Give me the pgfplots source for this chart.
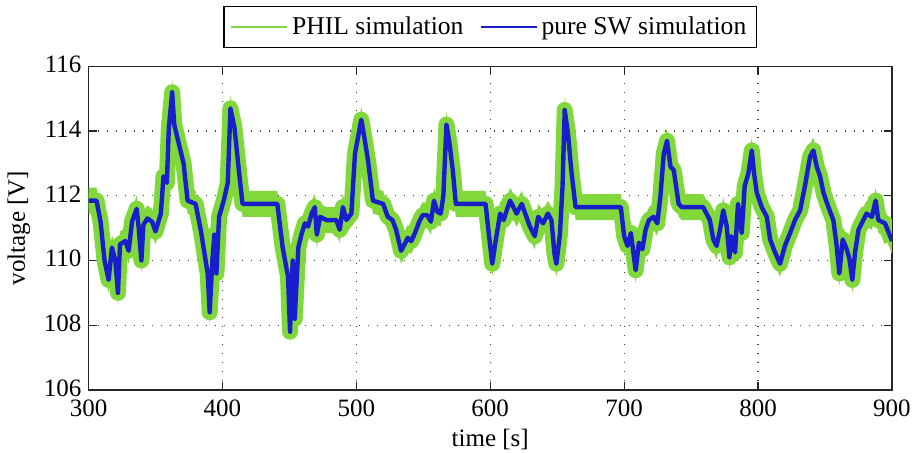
\documentclass[border=0pt]{standalone}
\usepackage{fontspec}
\setmainfont{Liberation Serif}
\usepackage{pgfplots}
\usepackage{pgfplotstable}
\usepgfplotslibrary{fillbetween}
\pgfplotsset{compat=1.18}
\definecolor{philgreen}{RGB}{128,216,58}
\definecolor{swblue}{RGB}{24,30,204}

% t: time, sw: pure SW simulation, phil: PHIL centre, hi/lo: PHIL band
\pgfplotstableread{
t sw phil hi lo
300 111.85 111.85 112.25 111.45
306 111.85 111.85 112.25 111.45
309 111.2 111.2 111.6 110.8
312 110.0 110.0 110.4 109.6
315 109.4 109.4 109.8 109.0
317.5 110.4 110.4 110.8 110.0
320 110.0 110.0 110.4 109.6
322 109.0 109.0 109.4 108.6
323.5 110.5 110.5 110.9 110.1
327.5 110.6 110.6 111.0 110.2
330 110.3 110.3 110.7 109.9
332.5 111.2 111.2 111.6 110.8
336 111.6 111.6 112.0 111.2
337.5 111.0 111.0 111.4 110.6
339.5 110.0 110.0 110.4 109.6
341 111.1 111.1 111.5 110.7
344 111.3 111.3 111.7 110.9
347.5 111.2 111.2 111.6 110.8
350 110.9 110.9 111.3 110.5
354 111.45 111.45 111.85 111.05
356 112.6 112.6 113.0 112.2
358.5 112.4 112.4 112.8 112.0
360 114.1 114.1 114.5 113.7
362.5 115.2 115.2 115.6 114.8
364 114.2 114.2 114.6 113.8
367.5 113.6 113.6 114.0 113.2
371 113.0 113.0 113.4 112.6
374 111.85 111.85 112.25 111.45
380 111.75 111.75 112.15 111.35
384 110.9 110.9 111.3 110.5
389 109.6 109.6 110.0 109.2
390.5 108.4 108.4 108.8 108.0
392.5 110.0 110.0 110.4 109.6
394 110.8 110.8 111.2 110.4
395.5 109.6 109.6 110.0 109.2
397.5 111.35 111.35 111.75 110.95
401 111.85 111.85 112.25 111.45
404 112.4 112.4 112.8 112.0
406 114.7 114.7 115.1 114.3
409 114.1 114.1 114.5 113.7
412.5 112.7 112.7 113.1 112.3
415 111.75 111.75 112.15 111.35
441 111.75 111.75 112.15 111.35
445 110.4 110.4 110.8 110.0
449 109.5 109.5 109.9 109.1
450.5 107.8 107.8 108.2 107.4
452.5 110.0 110.0 110.4 109.6
454 108.2 108.2 108.6 107.8
456.7 110.4 110.4 110.8 110.0
459 110.8 110.8 111.2 110.4
461.6 111.15 111.15 111.55 110.75
464 111.05 111.05 111.45 110.65
466.6 111.45 111.45 111.85 111.05
469 111.65 111.65 112.05 111.25
470.5 110.8 110.8 111.2 110.4
473 111.35 111.35 111.75 110.95
477.7 111.25 111.25 111.65 110.85
481.4 111.25 111.25 111.65 110.85
485 111.25 111.25 111.65 110.85
487.6 110.95 110.95 111.35 110.55
490 111.65 111.65 112.05 111.25
492.6 111.25 111.25 111.65 110.85
496.3 111.45 111.45 111.85 111.05
499 113.3 113.3 113.7 112.9
503.7 114.35 114.35 114.75 113.95
506 113.8 113.8 114.2 113.4
508.7 113.1 113.1 113.5 112.7
512.4 111.85 111.85 112.25 111.45
520 111.75 111.75 112.15 111.35
523.5 111.35 111.35 111.75 110.95
527 111.25 111.25 111.65 110.85
529.7 110.95 110.95 111.35 110.55
533.4 110.3 110.3 110.7 109.9
536 110.5 110.5 110.9 110.1
538.4 110.7 110.7 111.1 110.3
541 110.6 110.6 111.0 110.2
543.3 110.8 110.8 111.2 110.4
547 111.2 111.2 111.6 110.8
549.5 111.4 111.4 111.8 111.0
553 111.4 111.4 111.8 111.0
555.7 111.2 111.2 111.6 110.8
558 111.85 111.85 112.25 111.45
560.6 111.5 111.5 111.9 111.1
563 111.45 111.45 111.85 111.05
565 112.0 112.0 112.4 111.6
567.3 114.2 114.2 114.6 113.8
569.3 113.7 113.7 114.1 113.3
572 112.8 112.8 113.2 112.4
574.3 111.75 111.75 112.15 111.35
596.5 111.75 111.75 112.15 111.35
599 110.8 110.8 111.2 110.4
601.5 109.9 109.9 110.3 109.5
604 110.6 110.6 111.0 110.2
607.4 111.45 111.45 111.85 111.05
610 111.25 111.25 111.65 110.85
612.3 111.55 111.55 111.95 111.15
614.8 111.85 111.85 112.25 111.45
617.3 111.65 111.65 112.05 111.25
619.7 111.45 111.45 111.85 111.05
623.5 111.75 111.75 112.15 111.35
627 111.35 111.35 111.75 110.95
629.6 111.05 111.05 111.45 110.65
633.3 110.75 110.75 111.15 110.35
635.8 111.35 111.35 111.75 110.95
639.5 111.15 111.15 111.55 110.75
643 111.45 111.45 111.85 111.05
645.7 111.25 111.25 111.65 110.85
648 110.2 110.2 110.6 109.8
649.4 109.9 109.9 110.3 109.5
652 110.8 110.8 111.2 110.4
654 112.3 112.3 112.7 111.9
655.6 114.65 114.65 115.05 114.25
658 113.95 113.95 114.35 113.55
660.5 112.8 112.8 113.2 112.4
663.7 111.65 111.65 112.05 111.25
697.5 111.65 111.65 112.05 111.25
700 110.75 110.75 111.15 110.35
702.5 110.45 110.45 110.85 110.05
705 110.85 110.85 111.25 110.45
708.6 109.7 109.7 110.1 109.3
711 110.55 110.55 110.95 110.15
713.6 110.35 110.35 110.75 109.95
716 110.95 110.95 111.35 110.55
718.5 111.25 111.25 111.65 110.85
722 111.35 111.35 111.75 110.95
724.7 111.15 111.15 111.55 110.75
727 111.95 111.95 112.35 111.55
729.6 113.3 113.3 113.7 112.9
732 113.7 113.7 114.1 113.3
734.6 112.9 112.9 113.3 112.5
737 112.8 112.8 113.2 112.4
740.7 111.75 111.75 112.15 111.35
743 111.65 111.65 112.05 111.25
759 111.65 111.65 112.05 111.25
764 111.25 111.25 111.65 110.85
766.6 110.65 110.65 111.05 110.25
769 110.45 110.45 110.85 110.05
771.6 110.95 110.95 111.35 110.55
774 111.55 111.55 111.95 111.15
776.6 111.05 111.05 111.45 110.65
778.6 110.1 110.1 110.5 109.7
780 110.75 110.75 111.15 110.35
782.8 110.25 110.25 110.65 109.85
785 111.75 111.75 112.15 111.35
787.8 110.85 110.85 111.25 110.45
790 112.3 112.3 112.7 111.9
792.8 112.7 112.7 113.1 112.3
795.3 113.4 113.4 113.8 113.0
797 112.7 112.7 113.1 112.3
799 112.1 112.1 112.5 111.7
802.7 111.65 111.65 112.05 111.25
806.5 111.35 111.35 111.75 110.95
809 110.65 110.65 111.05 110.25
812.7 110.25 110.25 110.65 109.85
816.4 109.9 109.9 110.3 109.5
820 110.45 110.45 110.85 110.05
823.9 110.85 110.85 111.25 110.45
827.6 111.25 111.25 111.65 110.85
831.4 111.55 111.55 111.95 111.15
835 112.3 112.3 112.7 111.9
838.8 113.2 113.2 113.6 112.8
841.3 113.4 113.4 113.8 113.0
843.8 112.9 112.9 113.3 112.5
846.3 112.6 112.6 113.0 112.2
848.8 112.1 112.1 112.5 111.7
852.5 111.65 111.65 112.05 111.25
856.2 111.25 111.25 111.65 110.85
858.7 110.45 110.45 110.85 110.05
860.7 109.6 109.6 110.0 109.2
863.2 110.65 110.65 111.05 110.25
866.2 110.35 110.35 110.75 109.95
868.2 110.05 110.05 110.45 109.65
870.4 109.4 109.4 109.8 109.0
872.4 110.25 110.25 110.65 109.85
875 110.95 110.95 111.35 110.55
878.6 111.25 111.25 111.65 110.85
881 111.45 111.45 111.85 111.05
885 111.35 111.35 111.75 110.95
887.8 111.85 111.85 112.25 111.45
889.8 111.25 111.25 111.65 110.85
894.8 111.15 111.15 111.55 110.75
898.6 110.75 110.75 111.15 110.35
900 110.6 110.6 111.0 110.2
}\datatable

\begin{document}
\begin{tikzpicture}
\begin{axis}[
  scale only axis,
  width=401.75pt, height=161.85pt,
  xmin=300, xmax=900, ymin=106, ymax=116,
  xtick={300,400,...,900}, ytick={106,108,...,116},
  tick align=inside,
  major tick length=4pt,
  axis line style={line width=0.7pt, black!85},
  every tick/.style={black!85, line width=0.6pt},
  grid=major,
  grid style={black!75, line width=0.6pt, dash pattern=on 0.7pt off 3.8pt},
  /pgf/number format/assume math mode=true,
  /pgf/number format/.cd, 1000 sep={}, /pgfplots/.cd,
  ticklabel style={font=\fontsize{12.5}{14}\selectfont},
  xticklabel style={yshift=-1.5pt},
  yticklabel style={yshift=1pt},
  label style={font=\fontsize{12.5}{14}\selectfont},
  xlabel={time [s]},
  xlabel style={yshift=1pt},
  ylabel={voltage [V]},
  legend columns=2,
  legend style={at={(0.5,1.056)}, anchor=south, draw=black, line width=0.8pt,
    font=\fontsize{12.8}{15}\selectfont, inner xsep=3pt, inner ysep=3pt,
    /tikz/every even column/.append style={column sep=6pt}},
  legend cell align=left,
  clip=true,
]
\addplot[draw=none, name path=hi, forget plot] table[x=t, y=hi] {\datatable};
\addplot[draw=none, name path=lo, forget plot] table[x=t, y=lo] {\datatable};
\addplot[philgreen, draw=none, forget plot] fill between[of=hi and lo];
\addplot[philgreen, line width=8pt, line join=round,
  legend image code/.code={\draw[philgreen, line width=1pt] (0pt,0pt) -- (28pt,0pt);}]
  table[x=t, y=phil] {\datatable};
\addlegendentry{PHIL simulation}
\addplot[swblue, line width=2.2pt, line join=round,
  legend image code/.code={\draw[swblue, line width=1pt] (0pt,0pt) -- (28pt,0pt);}]
  table[x=t, y=sw] {\datatable};
\addlegendentry{pure SW simulation}
\end{axis}
\pgfresetboundingbox
\path (-44.25pt,-31pt) rectangle (413.25pt,195pt);
\end{tikzpicture}
\end{document}
